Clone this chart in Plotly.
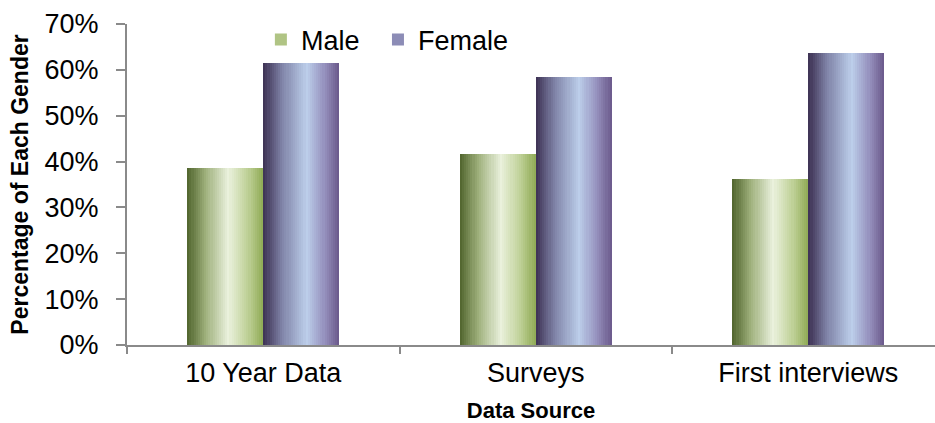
import plotly.graph_objects as go

# Share of each gender per data source (percent)
categories = ["10 Year Data", "Surveys", "First interviews"]
male = [38.5, 41.6, 36.3]
female = [61.5, 58.4, 63.7]
y_ticks = [0, 10, 20, 30, 40, 50, 60, 70]
y_tick_labels = ["0%", "10%", "20%", "30%", "40%", "50%", "60%", "70%"]

# Horizontal "cylinder" gradient stops for each series: (position, rgb)
male_stops = [(0.0, (80, 100, 44)), (0.25, (160, 178, 126)), (0.54, (234, 241, 220)),
              (0.8, (190, 208, 150)), (1.0, (143, 170, 84))]
female_stops = [(0.0, (60, 48, 82)), (0.25, (128, 132, 168)), (0.57, (188, 206, 234)),
                (0.8, (150, 146, 190)), (1.0, (106, 88, 138))]


def grad_color(stops, t):
    for (p0, c0), (p1, c1) in zip(stops, stops[1:]):
        if p0 <= t <= p1:
            f = (t - p0) / (p1 - p0) if p1 > p0 else 0
            c = [round(a + (b - a) * f) for a, b in zip(c0, c1)]
            return f"rgb({c[0]},{c[1]},{c[2]})"
    c = stops[-1][1]
    return f"rgb({c[0]},{c[1]},{c[2]})"


BAR_W = 0.279      # width of one bar in category units
N_STRIPS = 36      # vertical strips used to render the gradient

fig = go.Figure()


def add_gradient_bars(values, stops, start, name, legend_color, legend_id):
    step = BAR_W / N_STRIPS
    for i in range(N_STRIPS):
        t = (i + 0.5) / N_STRIPS
        off = start + i * step
        w = min(step * 1.8, start + BAR_W - off)
        fig.add_trace(go.Bar(
            x=categories, y=values, offset=off, width=w,
            marker=dict(color=grad_color(stops, t), line=dict(width=0)),
            showlegend=False, name=name, hoverinfo="skip",
        ))
    # legend entry
    fig.add_trace(go.Bar(
        x=[None], y=[None], name=name,
        marker=dict(color=legend_color, line=dict(width=0)),
        showlegend=True, legend=legend_id,
    ))


add_gradient_bars(male, male_stops, -BAR_W, "Male", "rgb(176,196,132)", "legend")
add_gradient_bars(female, female_stops, 0.0, "Female", "rgb(140,140,182)", "legend2")

axis_grey = "#8a8a8a"
font_family = "Liberation Sans, Arial, sans-serif"
TICK_SIZE = 27

legend_style = dict(
    orientation="h", y=0.95, xanchor="left", yanchor="middle",
    font=dict(size=TICK_SIZE), bgcolor="rgba(0,0,0,0)", itemwidth=30,
)

fig.update_layout(
    width=935, height=423,
    margin=dict(l=127, r=0, t=24, b=78),
    barmode="overlay",
    bargap=0,
    plot_bgcolor="white", paper_bgcolor="white",
    font=dict(family=font_family, size=TICK_SIZE, color="black"),
    showlegend=True,
    legend=dict(x=0.1657, **legend_style),
    legend2=dict(x=0.3106, **legend_style),
    xaxis=dict(
        type="category",
        range=[-0.5, 2.465],
        automargin=False,
        showline=True, linecolor=axis_grey, linewidth=2,
        ticks="outside", ticklen=7, tickcolor=axis_grey, tickwidth=2,
        tickson="boundaries", ticklabelstandoff=3,
        showgrid=False, zeroline=False,
        tickfont=dict(size=TICK_SIZE),
        title=dict(text="<b>Data Source</b>", font=dict(size=22), standoff=28),
    ),
    yaxis=dict(
        range=[0, 70],
        automargin=False,
        tickvals=y_ticks, ticktext=y_tick_labels,
        showline=True, linecolor=axis_grey, linewidth=2,
        ticks="outside", ticklen=9, tickcolor=axis_grey, tickwidth=2,
        ticklabelstandoff=12,
        showgrid=False, zeroline=False,
        tickfont=dict(size=TICK_SIZE),
        title=dict(text="<b>Percentage of Each Gender</b>", font=dict(size=23), standoff=10),
    ),
)

fig.write_html("out.html")
